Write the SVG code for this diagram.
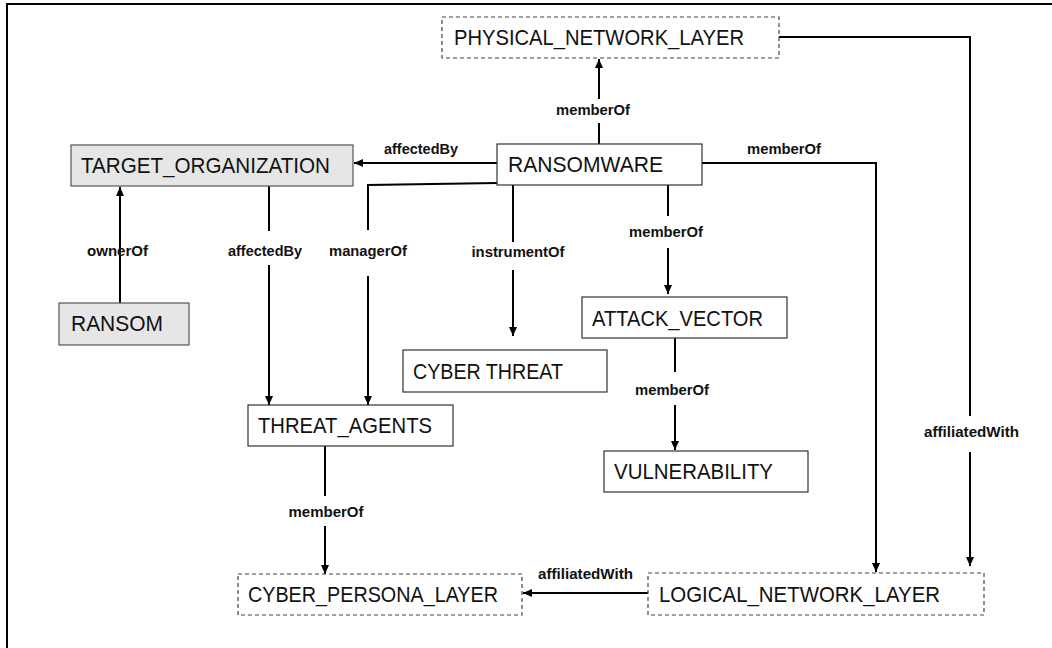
<svg xmlns="http://www.w3.org/2000/svg" width="1052" height="648" viewBox="0 0 1052 648">
<defs>
<marker id="arr" markerUnits="userSpaceOnUse" markerWidth="10" markerHeight="10" viewBox="0 0 10 10" refX="9" refY="5" orient="auto">
<path d="M0,1 L9,5 L0,9 Z" fill="#000"/>
</marker>
</defs>
<style>
.box{fill:#fff;stroke:#333;stroke-width:1.2}
.gray{fill:#e6e6e6;stroke:#555;stroke-width:1.2}
.dash{fill:#fff;stroke:#444;stroke-width:1.2;stroke-dasharray:4 3}
.nt{font-family:"Liberation Sans",Arial,sans-serif;font-size:22px;fill:#111}
.lb{font-family:"Liberation Sans",Arial,sans-serif;font-size:14px;font-weight:bold;fill:#111;text-anchor:middle}
.ln{fill:none;stroke:#000;stroke-width:2}
.ar{fill:none;stroke:#000;stroke-width:2;marker-end:url(#arr)}
</style>
<rect x="0" y="0" width="1052" height="648" fill="#fff"/>
<path d="M7,648 L7,4 L1052,4" fill="none" stroke="#000" stroke-width="2"/>

<g id="connectors">
<line class="ln" x1="599" y1="144" x2="599" y2="123"/>
<line class="ar" x1="599" y1="99" x2="599" y2="59"/>
<line class="ar" x1="497" y1="163" x2="354" y2="163"/>
<polyline class="ln" points="779,37 970,37 970,416"/>
<line class="ar" x1="970" y1="452" x2="970" y2="566"/>
<polyline class="ar" points="702,163 876,163 876,572"/>
<line class="ar" x1="120" y1="303" x2="120" y2="187"/>
<line class="ln" x1="269" y1="186" x2="269" y2="231"/>
<line class="ar" x1="269" y1="265" x2="269" y2="405"/>
<polyline class="ln" points="497,183 368,185 368,230"/>
<line class="ar" x1="368" y1="276" x2="368" y2="405"/>
<line class="ln" x1="513" y1="185" x2="513" y2="242"/>
<line class="ar" x1="513" y1="270" x2="513" y2="336"/>
<line class="ln" x1="668" y1="185" x2="668" y2="216"/>
<line class="ar" x1="668" y1="248" x2="668" y2="294"/>
<line class="ln" x1="675" y1="338" x2="675" y2="372"/>
<line class="ar" x1="675" y1="405" x2="675" y2="450"/>
<line class="ln" x1="325" y1="446" x2="325" y2="496"/>
<line class="ar" x1="325" y1="526" x2="325" y2="574"/>
<line class="ar" x1="648" y1="593" x2="523" y2="593"/>

<text class="lb" x="593" y="115" textLength="74" lengthAdjust="spacingAndGlyphs">memberOf</text>
<text class="lb" x="421" y="154" textLength="74" lengthAdjust="spacingAndGlyphs">affectedBy</text>
<text class="lb" x="784" y="154" textLength="74" lengthAdjust="spacingAndGlyphs">memberOf</text>
<text class="lb" x="117.5" y="256" textLength="61" lengthAdjust="spacingAndGlyphs">ownerOf</text>
<text class="lb" x="265" y="256" textLength="74" lengthAdjust="spacingAndGlyphs">affectedBy</text>
<text class="lb" x="368" y="256" textLength="78" lengthAdjust="spacingAndGlyphs">managerOf</text>
<text class="lb" x="518" y="257" textLength="93" lengthAdjust="spacingAndGlyphs">instrumentOf</text>
<text class="lb" x="666" y="237" textLength="74" lengthAdjust="spacingAndGlyphs">memberOf</text>
<text class="lb" x="672" y="395" textLength="74" lengthAdjust="spacingAndGlyphs">memberOf</text>
<text class="lb" x="971.5" y="437" textLength="95" lengthAdjust="spacingAndGlyphs">affiliatedWith</text>
<text class="lb" x="326" y="517" textLength="75" lengthAdjust="spacingAndGlyphs">memberOf</text>
<text class="lb" x="585.5" y="579" textLength="95" lengthAdjust="spacingAndGlyphs">affiliatedWith</text>
</g>

<g id="PHYSICAL_NETWORK_LAYER">
<rect class="dash" x="442" y="17" width="337" height="41"/>
<text class="nt" x="454" y="45" textLength="290" lengthAdjust="spacingAndGlyphs">PHYSICAL_NETWORK_LAYER</text>
</g>
<g id="TARGET_ORGANIZATION">
<rect class="gray" x="71" y="145" width="282" height="41"/>
<text class="nt" x="81" y="173" textLength="249" lengthAdjust="spacingAndGlyphs">TARGET_ORGANIZATION</text>
</g>
<g id="RANSOMWARE">
<rect class="box" x="497" y="144" width="205" height="41"/>
<text class="nt" x="508" y="172" textLength="155" lengthAdjust="spacingAndGlyphs">RANSOMWARE</text>
</g>
<g id="RANSOM">
<rect class="gray" x="59" y="303" width="130" height="42"/>
<text class="nt" x="71" y="331" textLength="92" lengthAdjust="spacingAndGlyphs">RANSOM</text>
</g>
<g id="ATTACK_VECTOR">
<rect class="box" x="582" y="297" width="205" height="41"/>
<text class="nt" x="592" y="326" textLength="171" lengthAdjust="spacingAndGlyphs">ATTACK_VECTOR</text>
</g>
<g id="CYBER_THREAT">
<rect class="box" x="403" y="350" width="204" height="42"/>
<text class="nt" x="413" y="379" textLength="150" lengthAdjust="spacingAndGlyphs">CYBER THREAT</text>
</g>
<g id="THREAT_AGENTS">
<rect class="box" x="248" y="405" width="205" height="41"/>
<text class="nt" x="258" y="433" textLength="174" lengthAdjust="spacingAndGlyphs">THREAT_AGENTS</text>
</g>
<g id="VULNERABILITY">
<rect class="box" x="604" y="451" width="204" height="41"/>
<text class="nt" x="614" y="479" textLength="159" lengthAdjust="spacingAndGlyphs">VULNERABILITY</text>
</g>
<g id="CYBER_PERSONA_LAYER">
<rect class="dash" x="238" y="574" width="284" height="41"/>
<text class="nt" x="248" y="602" textLength="250" lengthAdjust="spacingAndGlyphs">CYBER_PERSONA_LAYER</text>
</g>
<g id="LOGICAL_NETWORK_LAYER">
<rect class="dash" x="648" y="573" width="336" height="42"/>
<text class="nt" x="659" y="602" textLength="281" lengthAdjust="spacingAndGlyphs">LOGICAL_NETWORK_LAYER</text>
</g>
</svg>
